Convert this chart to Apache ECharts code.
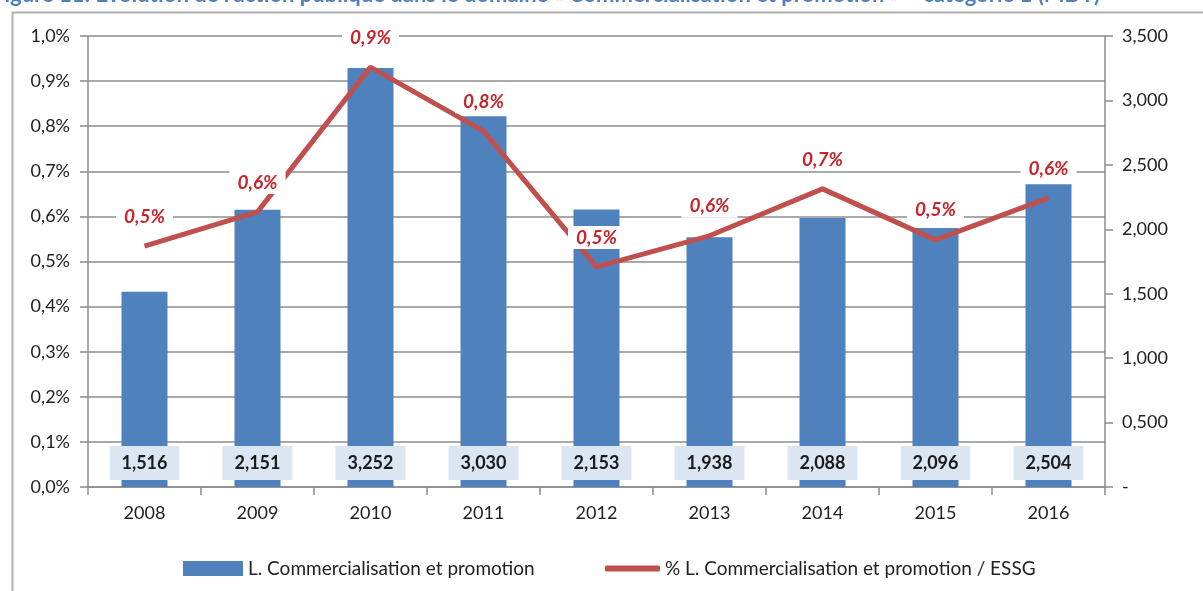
<!DOCTYPE html>
<html>
<head>
<meta charset="utf-8">
<script src="https://cdn.jsdelivr.net/npm/echarts@6/dist/echarts.min.js"></script>
<style>
  html, body { margin: 0; padding: 0; background: #fff; }
  #main { width: 1203px; height: 591px; }
</style>
</head>
<body>
<div id="main"></div>
<script>
// données (hauteurs dessinées + étiquettes affichées)
var years = ['2008', '2009', '2010', '2011', '2012', '2013', '2014', '2015', '2016'];
var commercialisation = [1.516, 2.151, 3.252, 2.878, 2.153, 1.938, 2.088, 2.010, 2.350];
var commercialisationLabels = ['1,516', '2,151', '3,252', '3,030', '2,153', '1,938', '2,088', '2,096', '2,504'];
var partEssg = [0.534, 0.610, 0.931, 0.789, 0.488, 0.557, 0.661, 0.548, 0.641];
var barName = 'L. Commercialisation et promotion';
var lineName = '% L. Commercialisation et promotion / ESSG';

var font = 'Lato';
var axisGray = '#8c8c8c';

function comma(v, d) {
  return v.toFixed(d).replace('.', ',');
}

var myChart = echarts.init(document.getElementById('main'));
var options = {
  animation: false,
  textStyle: { fontFamily: font },
  graphic: [
    {
      type: 'text', left: -8, top: -16,
      style: {
        text: 'Figure 11: Évolution de l\u2019action publique dans le domaine « Commercialisation et promotion » \u2013 catégorie 1 (MDT)',
        font: 'bold 22px ' + font, fill: '#4F81BD'
      }
    },
    {
      type: 'rect', left: 10, top: 10, z: -1,
      shape: { width: 1240, height: 620 },
      style: { fill: 'none', stroke: '#b0b0b0', lineWidth: 2 }
    }
  ],
  grid: { left: 88, right: 98, top: 36, bottom: 104 },
  legend: [
    {
      data: [{ name: barName, icon: 'rect' }],
      left: 178, top: 554, itemWidth: 60, itemHeight: 15,
      textStyle: { fontSize: 19, color: '#222', fontFamily: font }
    },
    {
      data: [{ name: lineName, icon: 'roundRect' }],
      left: 600, top: 554, itemWidth: 55, itemHeight: 6,
      textStyle: { fontSize: 19, color: '#222', fontFamily: font }
    }
  ],
  xAxis: {
    type: 'category',
    data: years,
    axisLine: { lineStyle: { color: axisGray, width: 1.5 } },
    axisTick: { show: true, length: 8, lineStyle: { color: axisGray, width: 1.5 } },
    axisLabel: { color: '#222', fontSize: 18, margin: 17 }
  },
  yAxis: [
    {
      type: 'value', min: 0, max: 1, interval: 0.1,
      axisLine: { show: true, lineStyle: { color: axisGray, width: 1.5 } },
      axisTick: { show: true, length: 8, lineStyle: { color: axisGray, width: 1.5 } },
      axisLabel: { color: '#222', fontSize: 18, margin: 18, formatter: function (v) { return comma(v, 1) + '%'; } },
      splitLine: { lineStyle: { color: axisGray, width: 1.5 } }
    },
    {
      type: 'value', min: 0, max: 3.5, interval: 0.5,
      axisLine: { show: true, lineStyle: { color: axisGray, width: 1.5 } },
      axisTick: { show: true, length: 8, lineStyle: { color: axisGray, width: 1.5 } },
      axisLabel: { color: '#222', fontSize: 18, margin: 17, formatter: function (v) { return v === 0 ? '-' : comma(v, 3); } },
      splitLine: { show: false }
    }
  ],
  series: [
    {
      name: barName,
      type: 'bar',
      yAxisIndex: 1,
      data: commercialisation,
      barWidth: 46,
      itemStyle: { color: '#4F81BD' },
      label: {
        show: true, position: 'insideBottom', distance: 7,
        backgroundColor: '#DCE6F2', padding: [8, 12],
        fontSize: 18, fontWeight: 'bold', color: '#1a1a1a',
        formatter: function (p) { return commercialisationLabels[p.dataIndex]; }
      }
    },
    {
      name: lineName,
      type: 'line',
      yAxisIndex: 0,
      data: partEssg,
      symbol: 'circle',
      symbolSize: 0,
      showSymbol: true,
      lineStyle: { color: '#C0504D', width: 5 },
      itemStyle: { color: '#C0504D' },
      label: {
        show: true, position: 'top', distance: 18,
        backgroundColor: '#fff', padding: [2, 8],
        fontSize: 19, fontWeight: 'bold', fontStyle: 'italic', color: '#C8242B',
        formatter: function (p) { return comma(p.value, 1) + '%'; }
      },
      labelLayout: { hideOverlap: false }
    }
  ]
};
myChart.setOption(options, true);
</script>
</body>
</html>
